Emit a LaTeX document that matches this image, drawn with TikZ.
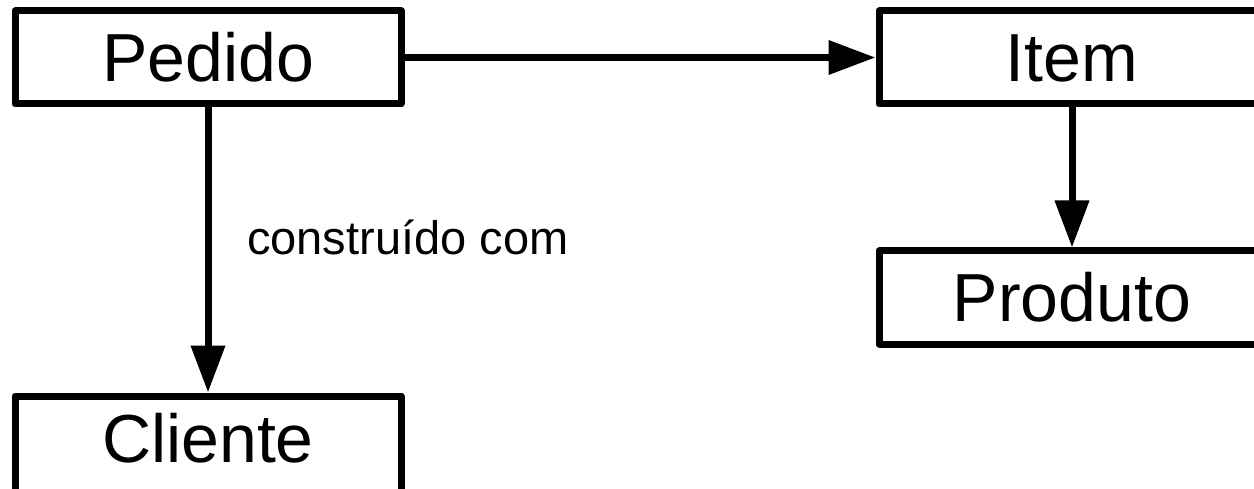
\documentclass[tikz,border=0pt]{standalone}
\usepackage{fontspec}
\setmainfont{Liberation Sans}
\usetikzlibrary{arrows.meta}
\tikzset{
  entity/.style={draw=black, line width=7pt, line join=round, minimum width=386pt, minimum height=93pt,
    inner sep=0pt, text height=48.5pt, text depth=0pt, font=\fontsize{68pt}{68pt}\selectfont},
  conn/.style={line width=7pt, -{Triangle[length=47pt,width=33pt]}},
  lbl/.style={font=\fontsize{47pt}{47pt}\selectfont, inner sep=0pt, anchor=base west}
}
\begin{document}
\begin{tikzpicture}[x=1pt,y=-1pt]
\path[use as bounding box, fill=white] (0,0) rectangle (1254,489);
\clip (0,0) rectangle (1254,489);
\node[entity] (pedido) at (208,57.5) {Pedido};
\node[entity] (item) at (1072,57.5) {Item};
\node[entity] (produto) at (1072,297.5) {Produto};
\node[entity, minimum height=100pt, text depth=15pt] (cliente) at (208,446) {Cliente};
\draw[conn] (pedido.east) -- (item.west);
\draw[conn] (item.south) -- (produto.north);
\draw[conn] (pedido.south) -- (cliente.north);
\node[lbl] (label) at (247,255) {construído com};
\end{tikzpicture}
\end{document}
